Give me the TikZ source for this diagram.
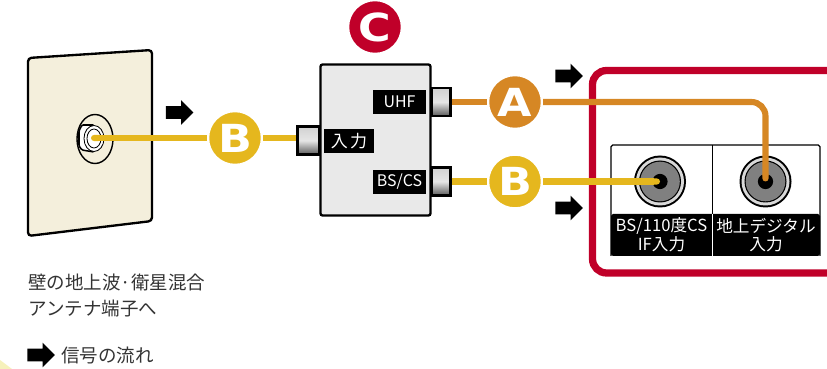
\documentclass[tikz,border=0pt]{standalone}
\usepackage{fontspec}
\setmainfont{Noto Sans CJK JP}
\newfontfamily\letterfont[FakeStretch=1.15]{DejaVu Sans}
\usetikzlibrary{shapes.arrows,arrows.meta}
\definecolor{wallcream}{HTML}{F4EFDC}
\definecolor{cableorange}{HTML}{D68724}
\definecolor{cableyellow}{HTML}{E5B71E}
\definecolor{framered}{HTML}{C00029}
\definecolor{boxgrey}{HTML}{E9E9E9}
\definecolor{jackgrey}{HTML}{808080}
\definecolor{inktext}{HTML}{333333}
\tikzset{
    flowarrow/.style={single arrow, fill=black, inner sep=5.2pt, minimum height=23.5pt, single arrow head extend=5.2pt, single arrow tip angle=90},
    badge/.style={circle, draw=white, line width=2pt, text=white, minimum size=46pt, inner sep=0pt, font=\letterfont\bfseries\fontsize{33}{33}\selectfont},
    cable/.style={line width=5.2pt},
    port/.style={rectangle, draw=black, line width=2pt, top color=white!82!black, bottom color=black!65, middle color=white!90!black, inner sep=0pt},
    tag/.style={rectangle, fill=black, text=white, inner sep=0pt, font=\fontsize{13.6}{13.6}\selectfont},
    note/.style={anchor=west, inner sep=0pt, text=inktext, font=\fontsize{15.8}{15.8}\selectfont},
    paneltext/.style={anchor=center, align=center, text=white, inner sep=0pt, font=\fontsize{14.2}{16}\selectfont},
    jackhole/.style={circle, fill=black, minimum size=13pt, inner sep=0pt}
}
\begin{document}
\begin{tikzpicture}[x=0.03cm, y=-0.03cm]
        \useasboundingbox (0,0) rectangle (827,369);
        \fill[wallcream!85!yellow] (0,360) -- (12,369) -- (0,369) -- cycle;

        % Wall plate and its socket
        \draw[fill=wallcream, line width=2pt, rounded corners=3pt] (28,58) -- (152,50) -- (152,221) -- (28,236) -- cycle;
        \draw[fill=wallcream, line width=1.2pt] (95,139) ellipse (18 and 24.5);
        \draw[fill=white, line width=1.3pt, rounded corners=1pt] (82,125) -- (94,125) -- (94,152) -- (82,150) -- (79,146) -- (79,131) -- cycle;
        \draw[fill=white, line width=0.7pt] (94,138.5) ellipse (10 and 13);
        \draw[fill=white, line width=0.7pt] (94,138.5) ellipse (7 and 9.5);
        \coordinate (socket) at (91,138);

        % Splitter box
        \node[draw, fill=boxgrey, line width=2pt, rounded corners=2pt, minimum width=94pt, minimum height=129pt, inner sep=0pt] (splitter) at (375.5,140) {};
        \node[port, minimum width=19pt, minimum height=24pt] (portin) at (308.5,140.5) {};
        \node[port, minimum width=16pt, minimum height=24pt] (portuhf) at (441,102) {};
        \node[port, minimum width=16pt, minimum height=24pt] (portbs) at (441,181.5) {};
        \node[tag, minimum width=42.5pt, minimum height=20.4pt, font=\fontsize{14.5}{14.5}\selectfont] (taginput) at (349,141) {入\hspace{2pt}力};
        \node[tag, minimum width=45pt, minimum height=20.4pt] (taguhf) at (399.5,102) {UHF};
        \node[tag, minimum width=45pt, minimum height=20.4pt] (tagbs) at (399.5,182) {BS/CS};

        % Receiver frame, open on the right
        \draw[framered, line width=6.2pt, rounded corners=12pt] (835,70.5) -- (592.5,70.5) -- (592.5,273) -- (835,273);

        % Input panel
        \fill[black, rounded corners=1.5pt] (611,214) rectangle (820,256);
        \draw[line width=1pt, rounded corners=1.5pt] (611,256) -- (611,145) -- (820,145) -- (820,256);
        \draw[line width=0.8pt] (712,145) -- (712,256);
        \draw[white, line width=0.5pt] (712,214) -- (712,256);
        \foreach \jackname/\jackx in {jackbs/660, jackuhf/765.5} {
            \fill[black] (\jackx,181.5) circle (26);
            \fill[white!85!black] (\jackx,181.5) circle (24);
            \fill[black] (\jackx,181.5) circle (21);
            \fill[jackgrey] (\jackx,181.5) circle (19.8);
            \node[jackhole] (\jackname) at (\jackx,181.5) {};
        }
        \node[paneltext] (labelbs) at (661.5,235) {BS/110度CS\\IF入力};
        \node[paneltext] (labeluhf) at (766,235) {地上デジタル\\入力};

        % Badges
        \node[badge, fill=cableyellow] (badgewall) at (235,138) {B};
        \node[badge, fill=cableorange] (badgeuhf) at (515,102) {A};
        \node[badge, fill=cableyellow] (badgebs) at (515,181.5) {B};
        \node[badge, fill=framered] (badgesplit) at (375,27) {C};

        % Cables
        \draw[cable, cableyellow, {Round Cap}-] (socket) -- (badgewall.west);
        \draw[cable, cableyellow] (badgewall.east) -- (badgewall.east -| portin.west);
        \draw[cable, cableorange] (portuhf.east) -- (badgeuhf.west);
        \draw[cable, cableorange, rounded corners=12pt, -{Round Cap}] (badgeuhf.east) -- (jackuhf.center |- badgeuhf.east) -- (jackuhf.center);
        \draw[cable, cableyellow] (portbs.east) -- (badgebs.west);
        \draw[cable, cableyellow, -{Round Cap}] (badgebs.east) -- (jackbs.center);

        % Signal direction arrows
        \node[flowarrow] (flowwall) at (176.5,112.5) {};
        \node[flowarrow] (flowuhf) at (566,76) {};
        \node[flowarrow] (flowbs) at (566,208) {};
        \node[flowarrow] (flowkey) at (38,355) {};

        % Notes
        \node[note] (notewall) at (28,282) {壁の地上波·衛星混合};
        \node[note] (notewalltwo) at (28,309) {アンテナ端子へ};
        \node[note] (notekey) at (61,355) {信号の流れ};
    \end{tikzpicture}
\end{document}
